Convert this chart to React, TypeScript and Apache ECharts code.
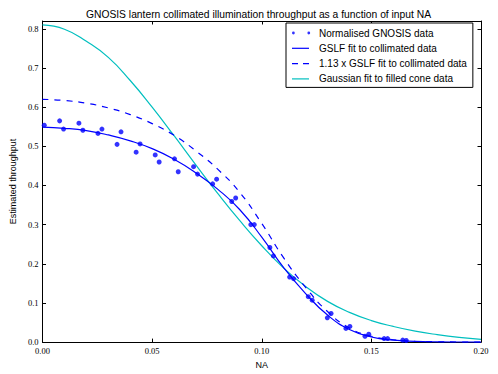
import React, { useEffect, useRef } from "react";
import * as echarts from "echarts";

// Measured data points (NA, normalised throughput)
const dataNA = [0.0008, 0.0078, 0.0096, 0.0166, 0.0184, 0.0253, 0.0271, 0.0340, 0.0358, 0.0427, 0.0445, 0.0514, 0.0532, 0.0602, 0.0619, 0.0689, 0.0707, 0.0776, 0.0794, 0.0863, 0.0881, 0.0950, 0.0966, 0.1037, 0.1053, 0.1127, 0.1145, 0.1212, 0.1230, 0.1299, 0.1316, 0.1384, 0.1402, 0.1471, 0.1488, 0.1558, 0.1574, 0.1643, 0.1659];
const dataThroughput = [0.554, 0.565, 0.544, 0.559, 0.541, 0.533, 0.544, 0.505, 0.537, 0.485, 0.506, 0.478, 0.460, 0.468, 0.435, 0.448, 0.429, 0.404, 0.416, 0.359, 0.368, 0.300, 0.300, 0.2415, 0.220, 0.166, 0.162, 0.116, 0.107, 0.062, 0.073, 0.035, 0.040, 0.015, 0.020, 0.009, 0.009, 0.005, 0.004];

// Fit curves
const fitNA = [0, 0.01, 0.02, 0.03, 0.04, 0.05, 0.06, 0.07, 0.08, 0.09, 0.10, 0.11, 0.12, 0.13, 0.14, 0.15, 0.16, 0.17, 0.18, 0.19, 0.20];
const gslfFit = [0.549, 0.546, 0.540, 0.529, 0.514, 0.494, 0.467, 0.432, 0.390, 0.338, 0.268, 0.190, 0.124, 0.069, 0.032, 0.013, 0.005, 0.002, 0.0007, 0.0002, 0];
const gslfFitScaled = [0.620, 0.617, 0.610, 0.598, 0.581, 0.558, 0.528, 0.488, 0.441, 0.382, 0.303, 0.215, 0.140, 0.078, 0.036, 0.015, 0.006, 0.002, 0.001, 0.0002, 0];
const gaussFit = [0.810, 0.799, 0.768, 0.727, 0.668, 0.600, 0.527, 0.452, 0.379, 0.310, 0.246, 0.189, 0.142, 0.104, 0.076, 0.055, 0.040, 0.028, 0.019, 0.012, 0.007];

const xTicks = { min: 0, max: 0.2, interval: 0.05 };
const yTicks = { min: 0, max: 0.82, interval: 0.1 };

const seriesNames = [
  "Normalised GNOSIS data",
  "GSLF fit to collimated data",
  "1.13 x GSLF fit to collimated data",
  "Gaussian fit to filled cone data",
];

const titleText = "GNOSIS lantern collimated illumination throughput as a function of input NA";

const BLUE = "#0000ff";
const CYAN = "#00bfbf";
const SANS = "Liberation Sans";
const SERIF = "Liberation Serif";

const box = "M0,0L0,0M22,10L22,10";
const iconDots = `path://${box}M0,5a1.4,1.4 0 1,0 2.8,0a1.4,1.4 0 1,0 -2.8,0ZM15.4,5a1.4,1.4 0 1,0 2.8,0a1.4,1.4 0 1,0 -2.8,0Z`;
const iconSolid = `path://${box}M0,4.4L17,4.4L17,5.6L0,5.6Z`;
const iconDashed = `path://${box}M0,4.4L6,4.4L6,5.6L0,5.6ZM11,4.4L17,4.4L17,5.6L11,5.6Z`;

export default function App() {
  const ref = useRef<HTMLDivElement>(null);

  useEffect(() => {
    if (!ref.current) return;
    const chart = echarts.init(ref.current, null, { renderer: "svg" });

    const axisLine = { show: true, onZero: false, lineStyle: { color: "#000", width: 1 } };
    const tick = { show: true, inside: true, length: 3.5, lineStyle: { color: "#000", width: 1 } };

    const isMultiple = (v: number, step: number) => Math.abs(v / step - Math.round(v / step)) < 1e-6;

    chart.setOption({
      animation: false,
      backgroundColor: "#fff",
      grid: { left: 36, right: 17, top: 21, bottom: 29.3, containLabel: false },
      graphic: [
        {
          type: "text",
          x: 258.5,
          y: 14,
          style: {
            text: titleText,
            font: `10.3px "${SANS}"`,
            fill: "#000",
            align: "center",
            verticalAlign: "middle",
            textAlign: "center",
            textVerticalAlign: "middle",
          },
        },
      ],
      legend: {
        left: 286,
        top: 23,
        orient: "vertical",
        selectedMode: false,
        backgroundColor: "#fff",
        borderColor: "#000",
        borderWidth: 1,
        borderRadius: 0,
        padding: [4.5, 6, 3, 6],
        itemGap: 4.3,
        itemWidth: 22,
        itemHeight: 10,
        itemStyle: { borderWidth: 0 },
        textStyle: { fontFamily: SANS, fontSize: 10, color: "#000", lineHeight: 11 },
        data: [
          { name: seriesNames[0], icon: iconDots },
          { name: seriesNames[1], icon: iconSolid },
          { name: seriesNames[2], icon: iconDashed },
          { name: seriesNames[3], icon: iconSolid },
        ],
      },
      xAxis: [
        {
          type: "value",
          position: "bottom",
          ...xTicks,
          name: "NA",
          nameLocation: "middle",
          nameGap: 12,
          nameTextStyle: { fontFamily: SANS, fontSize: 9, color: "#000", verticalAlign: "top" },
          axisLine,
          axisTick: tick,
          axisLabel: {
            fontFamily: SERIF,
            fontSize: 8.5,
            color: "#000",
            margin: 4,
            formatter: (v: number) => (isMultiple(v, 0.05) ? v.toFixed(2) : ""),
          },
          splitLine: { show: false },
        },
        {
          type: "value",
          position: "top",
          ...xTicks,
          axisLine,
          axisTick: tick,
          axisLabel: { show: false },
          splitLine: { show: false },
        },
      ],
      yAxis: [
        {
          type: "value",
          position: "left",
          ...yTicks,
          name: "Estimated throughput",
          nameLocation: "middle",
          nameRotate: 90,
          nameGap: 19,
          nameTextStyle: { fontFamily: SANS, fontSize: 9, color: "#000" },
          axisLine,
          axisTick: tick,
          axisLabel: {
            fontFamily: SERIF,
            fontSize: 8.5,
            color: "#000",
            margin: 4,
            showMaxLabel: false,
            formatter: (v: number) => (isMultiple(v, 0.1) ? v.toFixed(1) : ""),
          },
          splitLine: { show: false },
        },
        {
          type: "value",
          position: "right",
          ...yTicks,
          axisLine,
          axisTick: tick,
          axisLabel: { show: false },
          splitLine: { show: false },
        },
      ],
      series: [
        {
          name: seriesNames[0],
          type: "scatter",
          xAxisIndex: 0,
          yAxisIndex: 0,
          symbol: "circle",
          symbolSize: 5,
          itemStyle: { color: BLUE },
          data: dataNA.map((x, i) => [x, dataThroughput[i]]),
          z: 5,
        },
        {
          name: seriesNames[1],
          type: "line",
          xAxisIndex: 0,
          yAxisIndex: 0,
          showSymbol: false,
          symbol: "none",
          smooth: 0.5,
          itemStyle: { color: BLUE },
          lineStyle: { color: BLUE, width: 1.2 },
          data: fitNA.map((x, i) => [x, gslfFit[i]]),
          z: 3,
        },
        {
          name: seriesNames[2],
          type: "line",
          xAxisIndex: 0,
          yAxisIndex: 0,
          showSymbol: false,
          symbol: "none",
          smooth: 0.5,
          itemStyle: { color: BLUE },
          lineStyle: { color: BLUE, width: 1.2, type: [6, 6] },
          data: fitNA.map((x, i) => [x, gslfFitScaled[i]]),
          z: 3,
        },
        {
          name: seriesNames[3],
          type: "line",
          xAxisIndex: 0,
          yAxisIndex: 0,
          showSymbol: false,
          symbol: "none",
          smooth: 0.5,
          itemStyle: { color: CYAN },
          lineStyle: { color: CYAN, width: 1.2 },
          data: fitNA.map((x, i) => [x, gaussFit[i]]),
          z: 2,
        },
      ],
    });

    return () => chart.dispose();
  }, []);

  return (
    <div
      ref={ref}
      style={{ position: "absolute", left: 0, top: 0, width: 498, height: 374, background: "#fff" }}
    />
  );
}
